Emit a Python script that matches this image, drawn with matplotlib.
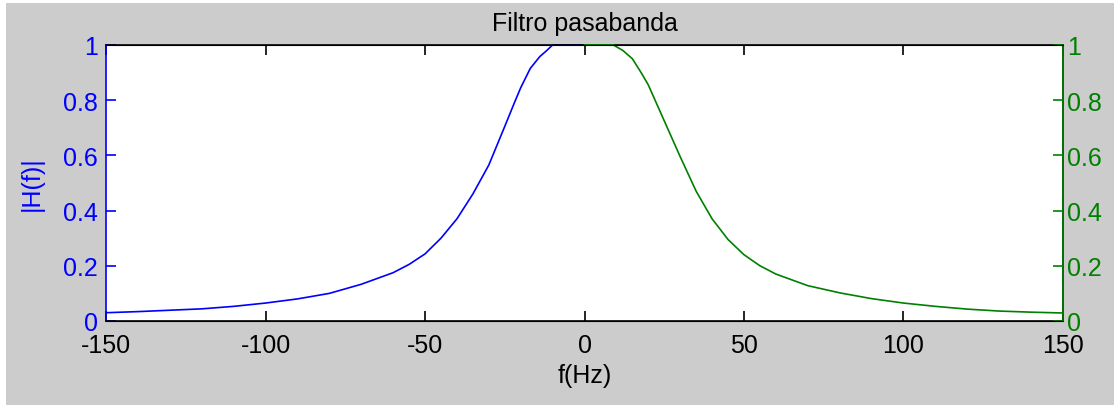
import matplotlib.pyplot as plt
from matplotlib.patches import Rectangle

plt.rcParams['font.family'] = ['Liberation Sans', 'DejaVu Sans']

# negative side of the band-pass response (blue axis)
f_neg = [-150, -140, -130, -120, -110, -100, -90, -80, -70, -60, -55, -50,
         -45, -40, -35, -30, -25, -22, -20, -17, -14, -12, -10, 0]
h_neg = [0.030, 0.034, 0.039, 0.044, 0.053, 0.065, 0.080, 0.100, 0.133, 0.175,
         0.205, 0.243, 0.300, 0.370, 0.460, 0.565, 0.705, 0.790, 0.845, 0.915,
         0.958, 0.978, 1.0, 1.0]

# positive side (green axis)
f_pos = [0, 9, 12, 15, 18, 20, 25, 30, 35, 40, 45, 50, 55, 60, 70, 80, 90,
         100, 110, 120, 130, 140, 150]
h_pos = [1.0, 1.0, 0.98, 0.95, 0.895, 0.855, 0.725, 0.595, 0.47, 0.37, 0.295,
         0.24, 0.20, 0.17, 0.128, 0.102, 0.081, 0.065, 0.053, 0.043, 0.036,
         0.032, 0.029]

xticks = [-150, -100, -50, 0, 50, 100, 150]
yticks = [0, 0.2, 0.4, 0.6, 0.8, 1]
ylabels = ['0', '0.2', '0.4', '0.6', '0.8', '1']

blue = '#0000ff'
green = '#008000'
fs = 18

fig = plt.figure(figsize=(11.14, 4.06), dpi=100, facecolor='white')
fig.patches.append(Rectangle((6 / 1114, 0), 1, 1 - 4 / 406, transform=fig.transFigure,
                             facecolor='#cccccc', edgecolor='none', zorder=-10))

ax = fig.add_axes([0.0952, 0.2069, 0.859, 0.680])
ax.plot(f_neg, h_neg, color=blue, lw=1.2, clip_on=False)
ax.set_xlim(-150, 150)
ax.set_ylim(0, 1)
ax.set_xticks(xticks)
ax.set_xticklabels([str(t) for t in xticks], fontsize=fs)
ax.set_yticks(yticks)
ax.set_yticklabels(ylabels, fontsize=fs, color=blue)
ax.tick_params(axis='x', direction='in', top=True, length=7, width=1.2, pad=9)
ax.tick_params(axis='y', direction='in', length=7, width=1.2, colors=blue, pad=6)
ax.spines['left'].set_color(blue)
for s in ax.spines.values():
    s.set_linewidth(1.2)
ax.set_xlabel('f(Hz)', fontsize=fs, labelpad=4)
ax.set_ylabel('|H(f)|', fontsize=fs, color=blue, labelpad=14)
ax.set_title('Filtro pasabanda', fontsize=fs, pad=11)

ax2 = ax.twinx()
ax2.plot(f_pos, h_pos, color=green, lw=1.2, clip_on=False)
ax2.set_ylim(0, 1)
ax2.set_yticks(yticks)
ax2.set_yticklabels(ylabels, fontsize=fs, color=green)
ax2.tick_params(axis='y', direction='in', length=7, width=1.2, colors=green, pad=3)
ax2.spines['right'].set_color(green)
ax2.spines['right'].set_linewidth(1.2)
ax2.spines['left'].set_visible(False)

fig.savefig('out.png', dpi=100, facecolor=fig.get_facecolor())
